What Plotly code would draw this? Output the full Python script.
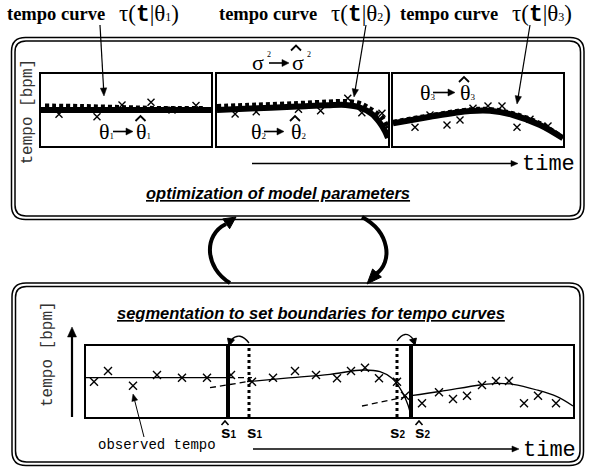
import math
import plotly.graph_objects as go

W, H = 602, 472

# ---------------- data ----------------
# upper row: three segments, time in s (local), tempo in bpm
p1_obs_t = [1.8, 5.6, 8.1, 11.0, 13.1, 15.5]
p1_obs_bpm = [91.7, 89.3, 101.0, 103.7, 96.0, 100.5]
p1_fit_t = [0, 17]
p1_fit_bpm = [96, 96]
p1_init_t = [0.4, 4, 8, 12, 16.4]
p1_init_bpm = [100, 99.5, 98.5, 97.5, 97.5]

p2_obs_t = [1.8, 3.9, 8.1, 10.3, 13.0, 14.4, 16.4, 16.9]
p2_obs_bpm = [92.0, 94.3, 96.7, 95.3, 107.7, 93.3, 92.7, 79.3]
p2_fit_t = [0, 4, 8, 11, 12.8, 14.2, 15.4, 16.2, 16.7, 17]
p2_fit_bpm = [96, 97.7, 99.4, 100.7, 101, 98.5, 92, 83, 75, 68]
p2_init_t = [0, 4, 8, 11, 12.8, 14.2, 15.0, 16.4, 16.9]
p2_init_bpm = [99.5, 101, 102.5, 104, 104.5, 102.5, 98.5, 88.5, 79.5]

p3_obs_t = [2.2, 3.7, 5.4, 6.7, 8.0, 9.5, 10.9, 12.4, 13.7, 15.5]
p3_obs_bpm = [78.7, 91.0, 81.0, 86.0, 97.7, 100.0, 100.0, 78.7, 86.7, 80.0]
p3_fit_t = [0, 3.7, 7.7, 9.7, 12, 14.7, 17]
p3_fit_bpm = [82.7, 89.3, 95.0, 95.3, 91.0, 81.0, 67.7]
p3_init_t = [0, 3.7, 7.7, 9.7, 12, 14.7, 16.8]
p3_init_bpm = [83.7, 90.3, 96.2, 96.5, 92.3, 82.5, 69.5]

# lower row: whole performance
obs_t = [0.8, 2.2, 4.7, 7.1, 9.6, 12.1, 14.5, 16.6, 18.7, 20.9, 23.0, 25.1, 26.5,
         27.9, 29.3, 31.1, 31.9, 33.6, 35.3, 36.7, 38.1, 39.6, 41.0, 42.3, 43.8,
         45.2, 47.0]
obs_bpm = [95.3, 106.0, 91.3, 102.0, 99.3, 99.3, 102.0, 95.3, 99.3, 106.0, 102.0,
           98.7, 106.0, 109.3, 98.7, 95.3, 81.3, 73.7, 84.7, 78.0, 81.3, 92.0, 96.0,
           96.0, 73.7, 81.3, 73.7]
seg1_t = [0, 14.2]
seg1_bpm = [99.3, 99.3]
seg1_ext_t = [14.2, 16.6]
seg1_ext_bpm = [99.3, 99.3]
seg2_ext_t = [12.4, 16.1]
seg2_ext_bpm = [89.3, 95.3]
seg2_t = [16.1, 20, 24.4, 27.7, 29.4, 30.6, 31.6, 32.2, 32.5]
seg2_bpm = [95.3, 98.8, 102.7, 107.0, 105.3, 98.7, 85.3, 72.0, 60.5]
seg3_ext_t = [27.6, 32.5]
seg3_ext_bpm = [71.0, 81.3]
seg3_t = [32.5, 35.4, 39.4, 41.1, 42.7, 45.1, 47.1, 48.7]
seg3_bpm = [81.3, 85.5, 92.0, 93.7, 92.7, 87.0, 80.3, 71.0]
bound_init = [16.3, 31.1]     # s1, s2
bound_est = [14.2, 32.5]      # s^1, s^2
bound_init_labels = ["1", "2"]
bound_est_labels = ["1", "2"]

# ---------------- figure ----------------
fig = go.Figure()


def dom_x(a, b):
    return [a / W, b / W]


def dom_y(top, bottom):
    return [1 - bottom / H, 1 - top / H]


panel_ax = dict(showline=True, mirror=True, linewidth=2, linecolor="black",
                showticklabels=False, ticks="", showgrid=False, zeroline=False,
                fixedrange=True)

layout = dict(
    width=W, height=H, margin=dict(l=0, r=0, t=0, b=0),
    paper_bgcolor="white", plot_bgcolor="white", showlegend=False,
    xaxis=dict(domain=[0, 1], range=[0, W], visible=False, fixedrange=True),
    yaxis=dict(domain=[0, 1], range=[H, 0], visible=False, fixedrange=True),
    xaxis2=dict(panel_ax, domain=dom_x(41, 211), range=[0, 17], anchor="y2"),
    yaxis2=dict(panel_ax, domain=dom_y(74, 146), range=[60, 132], anchor="x2"),
    xaxis3=dict(panel_ax, domain=dom_x(217, 388), range=[0, 17], anchor="y3"),
    yaxis3=dict(panel_ax, domain=dom_y(74, 146), range=[60, 132], anchor="x3"),
    xaxis4=dict(panel_ax, domain=dom_x(393, 563), range=[0, 17], anchor="y4"),
    yaxis4=dict(panel_ax, domain=dom_y(74, 146), range=[60, 132], anchor="x4"),
    xaxis5=dict(panel_ax, domain=dom_x(86, 573), range=[0, 48.7], anchor="y5"),
    yaxis5=dict(panel_ax, domain=dom_y(346, 417), range=[60, 131], anchor="x5"),
)


def add(xs, ys, ax, **kw):
    fig.add_trace(go.Scatter(x=xs, y=ys, xaxis="x" + ax, yaxis="y" + ax,
                             hoverinfo="skip", **kw))


thick = dict(color="black", width=6, shape="spline")
thick_d = dict(color="black", width=5, shape="spline", dash="4px,3px")
xmark_s = dict(symbol="x-thin", size=7, color="black", line=dict(width=1.4, color="black"))
xmark = dict(symbol="x-thin", size=8, color="black", line=dict(width=1.4, color="black"))

for ax, (ft, fb, it, ib, ot, ob) in zip(
        ["2", "3", "4"],
        [(p1_fit_t, p1_fit_bpm, p1_init_t, p1_init_bpm, p1_obs_t, p1_obs_bpm),
         (p2_fit_t, p2_fit_bpm, p2_init_t, p2_init_bpm, p2_obs_t, p2_obs_bpm),
         (p3_fit_t, p3_fit_bpm, p3_init_t, p3_init_bpm, p3_obs_t, p3_obs_bpm)]):
    add(it, ib, ax, mode="lines", line=thick_d)
    add(ft, fb, ax, mode="lines", line=thick)
    add(ot, ob, ax, mode="markers", marker=xmark_s)

thin = dict(color="black", width=1.3, shape="spline")
thin_d = dict(color="black", width=1.3, dash="6px,4px")
add(seg1_t, seg1_bpm, "5", mode="lines", line=thin)
add(seg1_ext_t, seg1_ext_bpm, "5", mode="lines", line=thin_d)
add(seg2_ext_t, seg2_ext_bpm, "5", mode="lines", line=thin_d)
add(seg2_t, seg2_bpm, "5", mode="lines", line=thin)
add(seg3_ext_t, seg3_ext_bpm, "5", mode="lines", line=thin_d)
add(seg3_t, seg3_bpm, "5", mode="lines", line=thin)
for b in bound_init:
    add([b, b], [60, 131], "5", mode="lines", line=dict(color="black", width=3, dash="dot"))
for b in bound_est:
    add([b, b], [60, 131], "5", mode="lines", line=dict(color="black", width=4))
add(obs_t, obs_bpm, "5", mode="markers", marker=xmark)

# ---------------- decorations ----------------
shapes = []
ann = []


def rrect(x0, y0, x1, y1, r):
    return (f"M {x0+r},{y0} L {x1-r},{y0} Q {x1},{y0} {x1},{y0+r} L {x1},{y1-r} "
            f"Q {x1},{y1} {x1-r},{y1} L {x0+r},{y1} Q {x0},{y1} {x0},{y1-r} "
            f"L {x0},{y0+r} Q {x0},{y0} {x0+r},{y0} Z")


def path(d, width=1.5, fill=None):
    s = dict(type="path", path=d, xref="x", yref="y",
             line=dict(color="black", width=width),
             fillcolor=fill if fill else "rgba(0,0,0,0)")
    shapes.append(s)


def text(x, y, s, size, family, xanchor="center", color="black", angle=0):
    ann.append(dict(x=x, y=y, xref="x", yref="y", text=s, showarrow=False,
                    xanchor=xanchor, yanchor="middle", textangle=angle,
                    font=dict(size=size, family=family, color=color)))


def arrow(x0, y0, x1, y1, width=1.2, L=7, hw=3):
    dx, dy = x1 - x0, y1 - y0
    n = math.hypot(dx, dy)
    ux, uy = dx / n, dy / n
    bx, by = x1 - ux * L, y1 - uy * L
    path(f"M {x0},{y0} L {bx + ux},{by + uy}", width)
    path(f"M {x1},{y1} L {bx - uy*hw},{by + ux*hw} L {bx + uy*hw},{by - ux*hw} Z",
         0.5, "black")


def hat(x, y, w=5, h=2.5, width=1.8):
    path(f"M {x-w},{y+h} L {x},{y-h} L {x+w},{y+h}", width=width)


def small(s, px):
    return f"<span style=\"font-size:{px}px\">{s}</span>"


# double rounded boxes
path(rrect(11.5, 37.5, 584, 219.5, 14), 1.5)
path(rrect(15, 41, 580.5, 216, 11), 1.5)
path(rrect(12, 283, 583.5, 465.5, 14), 1.5)
path(rrect(15.5, 286.5, 580, 462, 11), 1.5)

# big cycle arrows
path("M 230,283 C 205,268 203,235 226,224", 4)
path("M 236,217 L 229.6,228.7 L 222.8,218.9 Z", 1, "black")
path("M 362,217 C 390,232 393,262 376,274", 4)
path("M 367,284 L 381.4,277 L 372.6,269 Z", 1, "black")

# small curved arrows above boundaries
path("M 249,343 Q 240,331 231,340", 1.3)
path("M 229,346 L 234.4,339.9 L 227.6,338.1 Z", 1, "black")
path("M 397,341 Q 405,329 413,339", 1.3)
path("M 415,345 L 416.4,338.1 L 409.6,339.9 Z", 1, "black")

SERIF = "Liberation Serif"
MONO = "Liberation Mono"
SANS = "Liberation Sans"

# titles
for left, tleft, k in [(5, 117, 1), (217, 329, 2), (398, 510, 3)]:
    text(left, 14, "<b>tempo curve</b>", 18.5, SERIF, xanchor="left")
    text(tleft, 14, ("τ(<span style=\"font-family:Liberation Mono;font-weight:bold\">t</span>"
                     f"|θ{small(k, 12)})"), 23, SERIF, xanchor="left")
arrow(100, 25, 104, 96, 1.2, 8, 3.2)
arrow(366, 25, 354, 97, 1.2, 8, 3.2)
arrow(530, 25, 517, 104, 1.2, 8, 3.2)

# parameter labels
text(249.5, 62, "σ", 22, SERIF, xanchor="left")
text(264.5, 54, "2", 8, SERIF, xanchor="left")
arrow(269, 63, 289, 63, 1.6, 7, 3.5)
text(290, 62, "σ", 22, SERIF, xanchor="left")
text(305, 54, "2", 8, SERIF, xanchor="left")
hat(296, 48)
for (l1, a0, a1, l2, hx, y, k) in [(97, 113, 133, 134, 140.5, 131, 1),
                                   (248.5, 264, 284, 288.5, 295, 131, 2),
                                   (418, 433, 455, 458, 464, 92, 3)]:
    text(l1, y, "θ" + small(k, 9), 22, SERIF, xanchor="left")
    arrow(a0, y + 0.5, a1, y + 0.5, 1.6, 7, 3.5)
    text(l2, y, "θ" + small(k, 9), 22, SERIF, xanchor="left")
    hat(hx, y - 12.5)

# axis labels
text(27.5, 112, "tempo [bpm]", 16, MONO, color="#333", angle=-90)
text(48, 354, "tempo [bpm]", 16, MONO, color="#333", angle=-90)
arrow(72, 417, 72, 327, 2.2, 10, 4.5)
arrow(252, 163.5, 518, 163.5, 1.3, 7, 3)
text(520, 164, "time", 22, MONO, xanchor="left")
arrow(253, 449, 519, 449, 1.3, 7, 3)
text(521, 450, "time", 22, MONO, xanchor="left")

# captions
text(278, 193, "<b><i><u>optimization of model parameters</u></i></b>", 16.5, SANS)
text(310.5, 313, "<b><i><u>segmentation to set boundaries for tempo curves</u></i></b>", 16.5, SANS)

# observed tempo
text(156.5, 445, "observed tempo", 14, MONO)
arrow(144, 437, 133, 394, 1.0, 7, 3)

# boundary labels (x from data)
for b, lab, xs in list(zip(bound_init, bound_init_labels, [5, 0])) + \
        list(zip(bound_est, bound_est_labels, [0, 11])):
    ann.append(dict(x=b, y=432, xref="x5", yref="y",
                    text="<b>s</b>" + small("<b>" + lab + "</b>", 10),
                    showarrow=False, xanchor="center", yanchor="middle", xshift=xs,
                    font=dict(size=17, family=SANS, color="black")))
hat(225, 423, 3.5, 2, 1.6)
hat(419, 423, 3.5, 2, 1.6)

layout["shapes"] = shapes
layout["annotations"] = ann
fig.update_layout(**layout)
fig.write_html("out.html")
